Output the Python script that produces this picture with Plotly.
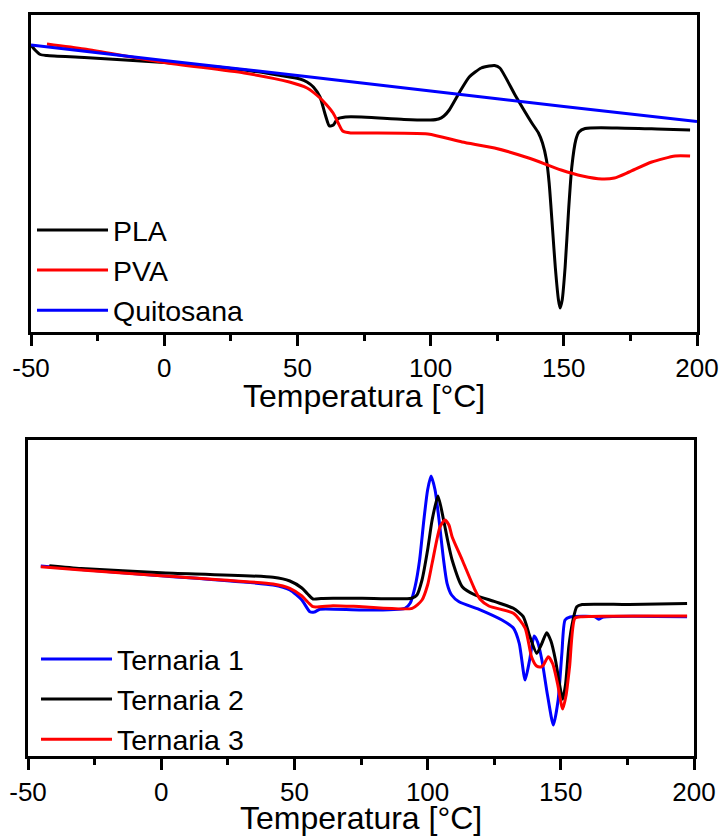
import plotly.graph_objects as go

# ---------------- data (temperature in °C, DSC signal in arbitrary units) -------------
pla_T = [-50, -48.5, -46.5, -44, -30, 0, 30, 47, 51, 53.6, 56, 58.5, 60.5, 62, 63.5, 65, 68, 74,
         90, 100, 103, 105, 107, 110.7, 114.5, 119, 122, 124, 126, 131.7, 138, 140.5, 142, 143.5,
         144.5, 145.8, 146.8, 148, 148.6, 149.4, 150.5, 151.8, 153, 154.5, 155.7, 158, 170, 185, 197.4]
pla_y = [287, 282, 277.5, 276.5, 274.5, 269.5, 262, 255, 253, 250, 245, 235, 217, 206, 207, 213, 215, 215,
         212.5, 212, 213, 216, 222, 239, 255, 264, 266, 266.5, 264, 237, 209, 199, 189, 172,
         149, 102, 65, 32, 24, 32, 65, 122, 165, 192, 200, 203.5, 204, 203, 202]

pva_T = [-44, -30, 0, 30, 47, 53.6, 58.5, 61, 63.4, 65.5, 67, 70, 74, 99, 111.8, 124, 136.8, 149,
         157, 164.3, 169, 174.5, 183, 191.8, 197.4]
pva_y = [288, 283, 269.5, 259, 250, 244, 234, 227, 219, 208, 201, 199, 199, 198, 190, 184, 174, 162,
         156, 153, 154, 160, 170, 176, 176]

qui_T = [-50, 0, 50, 100, 150, 200]
qui_y = [287, 271.5, 256.5, 241, 225.5, 210.5]

t1_T = [-45.2, -30, 0, 42, 48.3, 52.8, 55.8, 57.5, 59.6, 75.4, 91.5, 93.5, 95.3, 97, 98.6, 100, 101.3,
        102.8, 104.3, 106, 107.3, 109, 111.8, 119.3, 127.9, 132.2, 134.4, 136.6, 138.3, 140, 141.3,
        142.9, 145, 147.2, 149, 150.4, 151.6, 153.5, 162.8, 164.2, 166, 197.4]
t1_y = [190, 186.5, 180.3, 171, 166, 156, 144.3, 144, 146.7, 146, 147.7, 153, 169.3, 196, 236, 266, 280,
        266, 236, 196, 172.7, 161, 154.3, 146.7, 136, 128, 112.7, 76, 96, 120, 114,
        96, 61, 31, 56, 102.7, 136, 139, 139.3, 136.7, 139, 139.3]

t2_T = [-42, -30, 0, 42, 48.3, 52.8, 55, 57, 60, 64.5, 75.4, 94, 96, 97.9, 100, 101.7, 103.9, 106,
        107.5, 109.2, 113, 117.8, 125.3, 132.2, 135.9, 138.4, 141, 142.8, 144.7, 146.3, 148,
        149.5, 150.7, 151.8, 153, 154.5, 156, 158, 175.6, 197.4]
t2_y = [190.3, 187.5, 183.3, 178.7, 175, 168, 162, 157, 157.5, 157.7, 157.7, 157.7, 161, 176, 206, 236, 260, 236,
        216, 196, 169.3, 161, 154.3, 147.7, 139.3, 119.3, 102.7, 112, 123.3, 115, 96,
        72, 56.7, 72, 109.3, 135, 149.3, 151.5, 151.5, 152.5]

t3_T = [-45.2, -30, 0, 42, 48.3, 52.8, 55, 57, 64.5, 75.4, 94.2, 97.9, 100, 101.7, 104.7, 106.5, 108,
        109.2, 113, 117.8, 119.7, 123, 132.2, 136.6, 139, 140.9, 142.5, 143.5, 145.3, 147, 148.8,
        150.7, 152, 153.3, 155.3, 158, 197.4]
t3_y = [189.3, 186, 180.3, 172, 167.7, 160, 154, 149.3, 150.3, 149.3, 147.7, 156, 171, 192.7, 229.3, 236, 231,
        219.3, 196, 166, 156.7, 150, 142.7, 128, 99.3, 90, 89, 91, 99.3, 92, 72,
        47, 61, 89.3, 137.7, 139.3, 140]

x_ticks = [-50, 0, 50, 100, 150, 200]
x_ticktext = ["-50", "0", "50", "100", "150", "200"]
x_title = "Temperatura [°C]"

# ---------------- figure -------------------------------------------------------------
W, H = 724, 836
FONT = "Arial, Liberation Sans, sans-serif"
LW = 3

fig = go.Figure()

top_series = [("PLA", pla_T, pla_y, "#000000"),
              ("PVA", pva_T, pva_y, "#ff0000"),
              ("Quitosana", qui_T, qui_y, "#0000ff")]
bot_series = [("Ternaria 1", t1_T, t1_y, "#0000ff"),
              ("Ternaria 2", t2_T, t2_y, "#000000"),
              ("Ternaria 3", t3_T, t3_y, "#ff0000")]

for name, xs, ys, c in top_series:
    fig.add_trace(go.Scatter(x=xs, y=ys, name=name, mode="lines",
                             line=dict(color=c, width=LW, shape="spline", smoothing=0.6),
                             xaxis="x", yaxis="y", legend="legend"))
for name, xs, ys, c in bot_series:
    fig.add_trace(go.Scatter(x=xs, y=ys, name=name, mode="lines",
                             line=dict(color=c, width=LW, shape="spline", smoothing=0.6),
                             xaxis="x2", yaxis="y2", legend="legend2"))


def px_x(p):
    return p / W


def px_y(p):
    return 1 - p / H


xaxis_common = dict(range=[-50, 200], tickvals=x_ticks, ticktext=x_ticktext, ticks="outside",
                    ticklen=11, tickwidth=2.5, tickcolor="black", showline=True, linecolor="black",
                    linewidth=2.5, mirror=True, showgrid=False, zeroline=False, automargin=False,
                    tickfont=dict(family=FONT, size=26, color="black"),
                    minor=dict(dtick=25, tick0=-50, ticks="outside", ticklen=6, tickwidth=2.5,
                               tickcolor="black", showgrid=False))
yaxis_common = dict(showticklabels=False, ticks="", showline=True, linecolor="black", linewidth=2.5,
                    mirror=True, showgrid=False, zeroline=False, automargin=False)

legend_font = dict(family=FONT, size=28.5, color="black")

fig.update_layout(
    width=W, height=H, margin=dict(l=0, r=0, t=0, b=0, autoexpand=False),
    paper_bgcolor="white", plot_bgcolor="white",
    font=dict(family=FONT, color="black"),
    xaxis=dict(domain=[px_x(31), px_x(697)], anchor="y", **xaxis_common),
    yaxis=dict(domain=[px_y(332), px_y(15)], anchor="x", range=[0, 317], **yaxis_common),
    xaxis2=dict(domain=[px_x(28), px_x(694)], anchor="y2", **xaxis_common),
    yaxis2=dict(domain=[px_y(756), px_y(440)], anchor="x2", range=[0, 316], **yaxis_common),
    legend=dict(x=px_x(32), y=px_y(205), xanchor="left", yanchor="top", bgcolor="rgba(0,0,0,0)",
                font=legend_font, itemwidth=71, tracegroupgap=0),
    legend2=dict(x=px_x(36), y=px_y(634), xanchor="left", yanchor="top", bgcolor="rgba(0,0,0,0)",
                 font=legend_font, itemwidth=71, tracegroupgap=0),
    showlegend=True,
    annotations=[
        dict(text=x_title, xref="paper", yref="paper", x=px_x(364), y=px_y(396), xanchor="center",
             yanchor="middle", showarrow=False, font=dict(family=FONT, size=32, color="black")),
        dict(text=x_title, xref="paper", yref="paper", x=px_x(361), y=px_y(818), xanchor="center",
             yanchor="middle", showarrow=False, font=dict(family=FONT, size=32, color="black")),
    ],
)

fig.write_html("out.html")
